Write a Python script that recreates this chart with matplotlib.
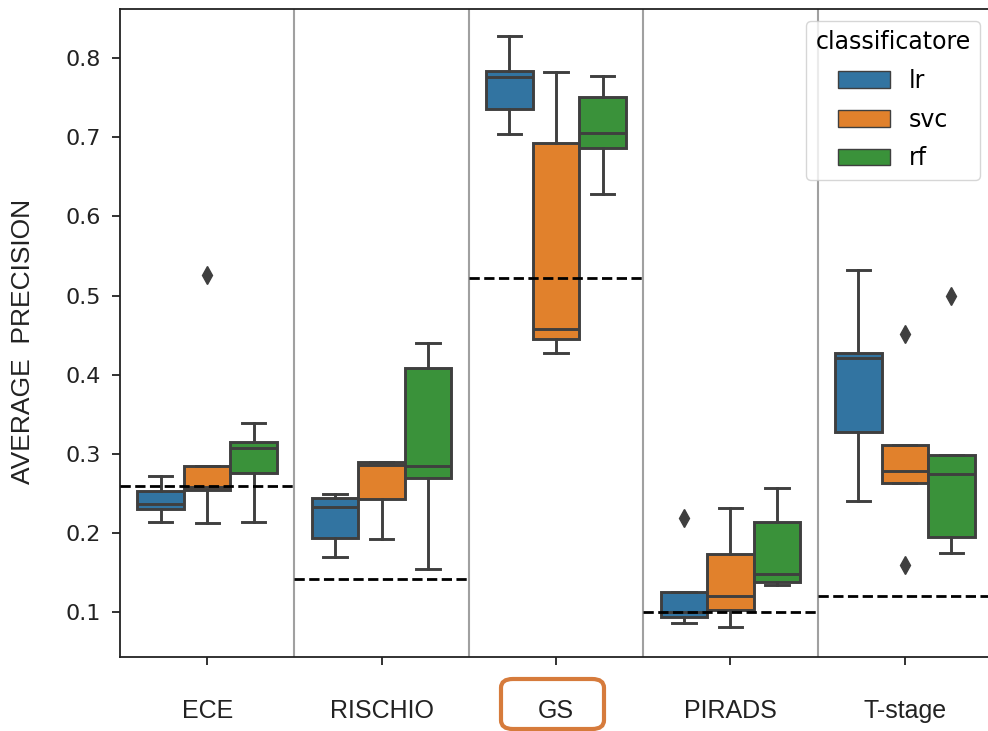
import matplotlib
matplotlib.use("Agg")
import matplotlib.pyplot as plt
from matplotlib.patches import Patch, FancyBboxPatch

plt.rcParams["font.family"] = ["DejaVu Sans"]

# ---------------- data ----------------
categories = ["ECE", "RISCHIO", "GS", "PIRADS", "T-stage"]
classifiers = ["lr", "svc", "rf"]

# per category: [lr, svc, rf]
whislo = [[0.2145, 0.2125, 0.2145],
          [0.1695, 0.1922, 0.1543],
          [0.7040, 0.4280, 0.6286],
          [0.0869, 0.0818, 0.1345],
          [0.2410, 0.2630, 0.1745]]
q1 = [[0.2310, 0.2545, 0.2760],
      [0.1935, 0.2428, 0.2701],
      [0.7356, 0.4453, 0.6863],
      [0.0937, 0.1029, 0.1387],
      [0.3282, 0.2630, 0.1955]]
med = [[0.2365, 0.2580, 0.3070],
       [0.2334, 0.2860, 0.2849],
       [0.7760, 0.4576, 0.7060],
       [0.1008, 0.1210, 0.1480],
       [0.4210, 0.2789, 0.2748]]
q3 = [[0.2530, 0.2850, 0.3145],
      [0.2440, 0.2900, 0.4083],
      [0.7840, 0.6926, 0.7507],
      [0.1253, 0.1737, 0.2145],
      [0.4270, 0.3114, 0.2988]]
whishi = [[0.2726, 0.2850, 0.3388],
          [0.2490, 0.2900, 0.4407],
          [0.8282, 0.7823, 0.7768],
          [0.1253, 0.2322, 0.2567],
          [0.5325, 0.3114, 0.2988]]
fliers = [[[], [0.526], []],
          [[], [], []],
          [[], [], []],
          [[0.2195], [], []],
          [[], [0.4513, 0.1598], [0.4997]]]
baseline = [0.260, 0.1417, 0.522, 0.1008, 0.1206]

colors = ["#3274a1", "#e1812c", "#3a923a"]
edge = "#3f3f3f"

# ---------------- figure ----------------
W, H = 988, 731
fig = plt.figure(figsize=(W / 100, H / 100), dpi=100)
ax = fig.add_axes([120 / W, (H - 657) / H, 872 / W, 648 / H])

n_h = len(classifiers)
bw = 0.8 / n_h
for i, cat in enumerate(categories):
    for j, cl in enumerate(classifiers):
        st = dict(med=med[i][j], q1=q1[i][j], q3=q3[i][j],
                  whislo=whislo[i][j], whishi=whishi[i][j],
                  fliers=fliers[i][j])
        pos = i + (j - (n_h - 1) / 2) * bw
        ax.bxp([st], positions=[pos], widths=bw, patch_artist=True,
               showfliers=True, manage_ticks=False,
               boxprops=dict(facecolor=colors[j], edgecolor=edge, linewidth=2.1),
               whiskerprops=dict(color=edge, linewidth=2.1),
               capprops=dict(color=edge, linewidth=2.1),
               medianprops=dict(color=edge, linewidth=2.1),
               flierprops=dict(marker="d", markerfacecolor=edge,
                               markeredgecolor=edge, markersize=9))

# separators between categories
for i in range(len(categories) - 1):
    ax.axvline(i + 0.5, color="#a0a0a0", lw=1.5, zorder=0.5)

# baselines (dashed)
for i, b in enumerate(baseline):
    ax.hlines(b, i - 0.5, i + 0.5, colors="black", linestyles="--",
              lw=2, zorder=5)

ax.set_xlim(-0.5, len(categories) - 0.5)
ax.set_ylim(0.0435, 0.862)
ax.set_xticks(range(len(categories)))
ax.set_xticklabels(categories, fontsize=18, family="Liberation Sans")
ax.set_yticks([0.1, 0.2, 0.3, 0.4, 0.5, 0.6, 0.7, 0.8])
ax.set_yticklabels(["0.1", "0.2", "0.3", "0.4", "0.5", "0.6", "0.7", "0.8"],
                   fontsize=16)
ax.tick_params(axis="x", length=6, width=1.3, pad=24, colors="#222222")
ax.tick_params(axis="y", length=6, width=1.3, pad=8, colors="#222222")
for s in ax.spines.values():
    s.set_linewidth(1.3)
    s.set_color("#222222")

ax.set_ylabel("AVERAGE  PRECISION", fontsize=19, family="Liberation Sans",
              color="#222222")
ax.yaxis.set_label_coords(-0.098, 0.487)

handles = [Patch(facecolor=c, edgecolor=edge, linewidth=1, label=l)
           for c, l in zip(colors, classifiers)]
leg = ax.legend(handles=handles, title="classificatore", loc="upper right",
                fontsize=17, title_fontsize=17, framealpha=0.8,
                handlelength=2.2, handleheight=0.7, labelspacing=0.62,
                borderaxespad=0.5)
leg.get_frame().set_edgecolor("#cccccc")

# orange highlight around the GS label
fig.patches.append(FancyBboxPatch((501 / W, (H - 729) / H), 103 / W, 50 / H,
                                  boxstyle="round,pad=0,rounding_size=0.012",
                                  transform=fig.transFigure, fill=False,
                                  edgecolor="#d67b3c", linewidth=3))

fig.savefig("out.png", dpi=100)
